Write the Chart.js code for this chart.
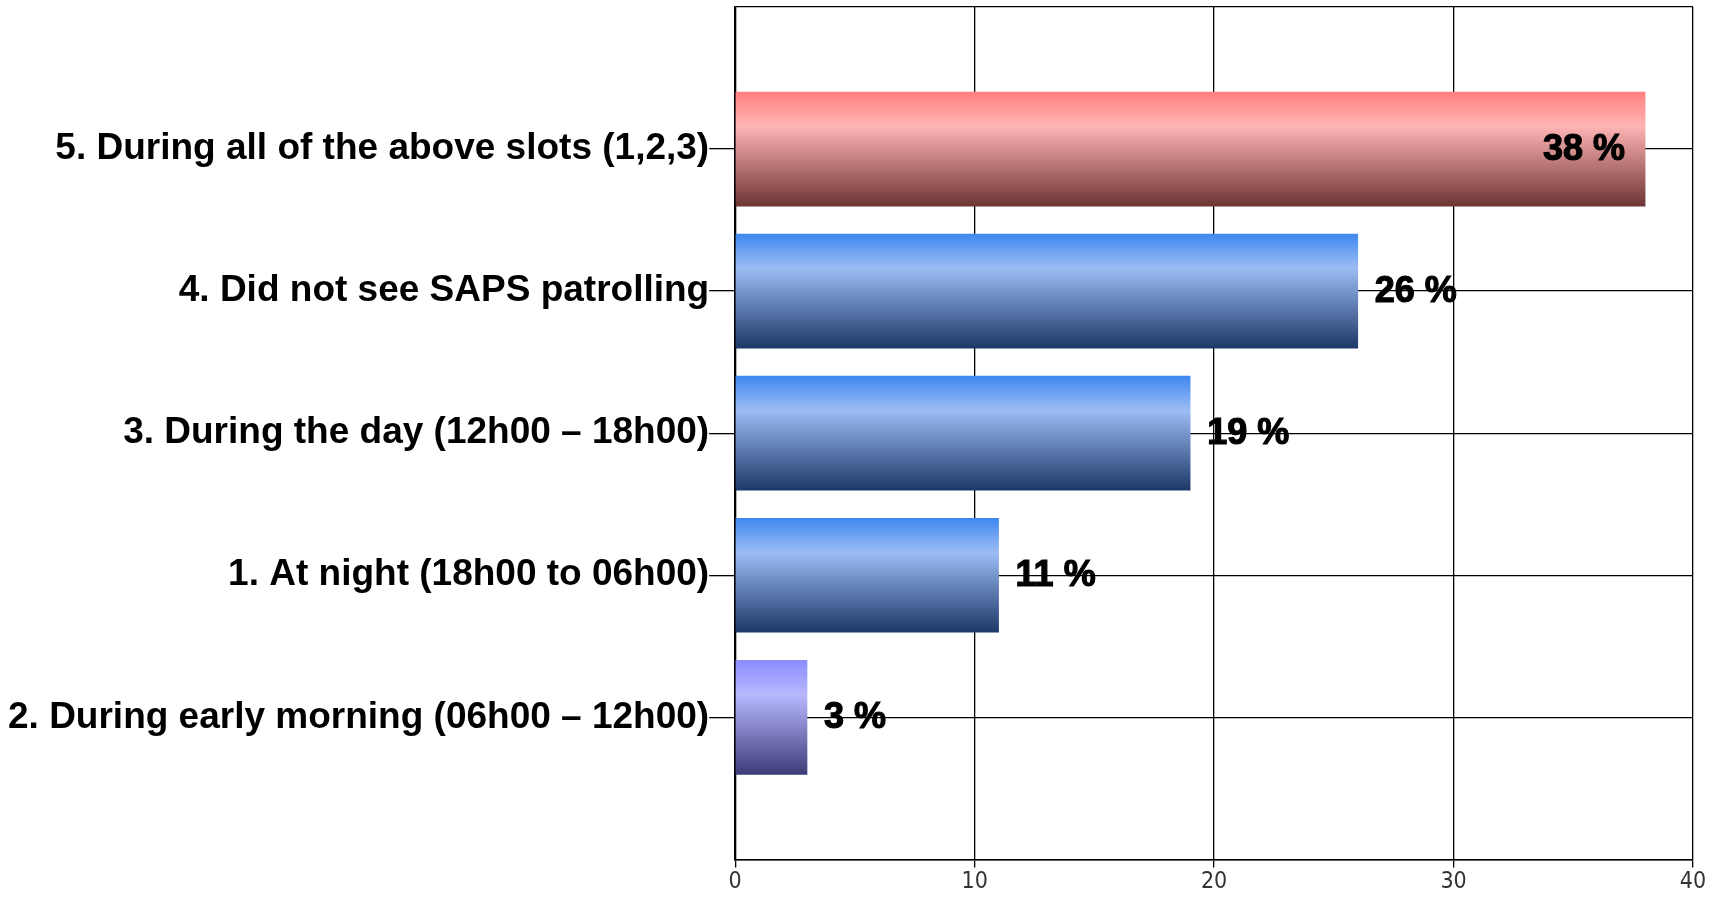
<!DOCTYPE html>
<html>
<head>
<meta charset="utf-8">
<script src="https://cdn.jsdelivr.net/npm/chart.js@4/dist/chart.umd.min.js"></script>
<style>
    html, body { margin: 0; padding: 0; background: #fff; }
    #wrap { width: 1719px; height: 897px; }
</style>
</head>
<body>
<div id="wrap"><canvas id="chart" width="1719" height="897"></canvas></div>
<script>
// categories top to bottom; blank slots at both ends keep the spacing of the original
const categories = ['', '5. During all of the above slots (1,2,3)', '4. Did not see SAPS patrolling',
    '3. During the day (12h00 \u2013 18h00)', '1. At night (18h00 to 06h00)',
    '2. During early morning (06h00 \u2013 12h00)', ''];
const percentages = [null, 38, 26, 19, 11, 3, null];
const xTicks = [0, 10, 20, 30, 40];

const barColours = {
    red:    ['#ff7f7f', '#ffb4b4', '#6e3434'],
    blue:   ['#4088f0', '#9cbcf4', '#1c3868'],
    purple: ['#8c8cff', '#b8b8ff', '#3c3c78']
};
const barScheme = [null, 'red', 'blue', 'blue', 'blue', 'purple', null];

const BAR_H = 114;
const LABEL_FONT = '"Liberation Sans", Arial, sans-serif';

function barGradient(context) {
    const chart = context.chart;
    const scheme = barColours[barScheme[context.dataIndex]];
    if (!scheme || !chart.scales.y) return '#888';
    const mid = chart.scales.y.getPixelForValue(context.dataIndex);
    const g = chart.ctx.createLinearGradient(0, mid - BAR_H / 2, 0, mid + BAR_H / 2);
    g.addColorStop(0, scheme[0]);
    g.addColorStop(0.3, scheme[1]);
    g.addColorStop(1, scheme[2]);
    return g;
}

// percent labels: outside the bar end, or inside when there is no room
const valueLabels = {
    id: 'valueLabels',
    afterDatasetsDraw(chart) {
        const ctx = chart.ctx;
        const area = chart.chartArea;
        ctx.save();
        ctx.font = 'bold 36px ' + LABEL_FONT;
        ctx.fillStyle = '#000';
        ctx.strokeStyle = '#000';
        ctx.lineWidth = 1.2;
        ctx.textBaseline = 'middle';
        chart.getDatasetMeta(0).data.forEach((bar, i) => {
            const v = percentages[i];
            if (v == null) return;
            const txt = v + ' %';
            const w = ctx.measureText(txt).width;
            let x = bar.x + 17;
            if (x + w > area.right) {
                ctx.textAlign = 'right';
                x = bar.x - 20;
            } else {
                ctx.textAlign = 'left';
            }
            ctx.fillText(txt, x, bar.y + 1);
            ctx.strokeText(txt, x, bar.y + 1);
        });
        ctx.restore();
    }
};

new Chart(document.getElementById('chart'), {
    type: 'bar',
    data: {
        labels: categories,
        datasets: [{
            data: percentages,
            backgroundColor: barGradient,
            borderWidth: 0,
            barThickness: BAR_H
        }]
    },
    options: {
        indexAxis: 'y',
        responsive: false,
        animation: false,
        layout: { padding: { top: 7, right: 26, left: 8, bottom: 0 } },
        plugins: {
            legend: { display: false },
            tooltip: { enabled: false }
        },
        scales: {
            x: {
                min: 0,
                max: 40,
                afterBuildTicks: (axis) => { axis.ticks = xTicks.map(v => ({value: v})); },
                grid: { color: '#000', lineWidth: 1.3, tickLength: 8 },
                border: { color: '#000', width: 1.5 },
                ticks: {
                    color: '#333',
                    padding: 1,
                    maxRotation: 0,
                    font: { family: '"Liberation Sans Narrow", "DejaVu Sans Condensed", sans-serif', size: 23 }
                }
            },
            y: {
                offset: false,
                grid: {
                    offset: false,
                    color: '#000',
                    lineWidth: 1.3,
                    tickLength: 26,
                    tickColor: (c) => categories[c.index] ? '#000' : 'rgba(0,0,0,0)'
                },
                border: { color: '#000', width: 1.5 },
                ticks: {
                    color: '#000',
                    padding: 0,
                    autoSkip: false,
                    // empty slots get no label height so the plot reaches the top edge
                    callback: function (value) {
                        const name = this.getLabelForValue(value);
                        return name ? name : [];
                    },
                    font: { family: LABEL_FONT, size: 37, weight: 'bold' }
                }
            }
        }
    },
    plugins: [valueLabels]
});
</script>
</body>
</html>
